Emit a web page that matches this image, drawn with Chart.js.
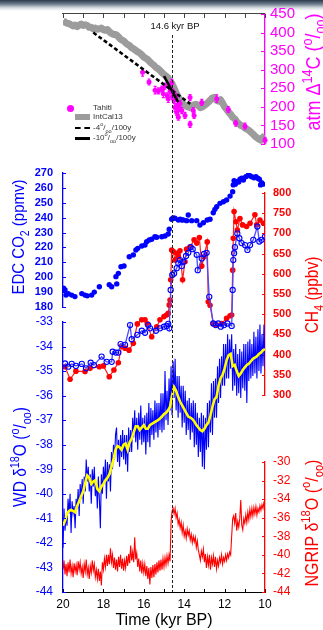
<!DOCTYPE html>
<html>
<head>
<meta charset="utf-8">
<script src="https://cdn.jsdelivr.net/npm/chart.js@4.4.0/dist/chart.umd.min.js"></script>
<style>
  html, body { margin: 0; padding: 0; background: #fff; }
  #wrap { position: relative; width: 323px; height: 630px; overflow: hidden;
          font-family: "Liberation Sans", Arial, sans-serif; background: #fff; }
  #wrap canvas { position: absolute; left: 0; top: 0; }
  .topbar { position: absolute; left: 0; top: 0; width: 323px; height: 11px;
            background: linear-gradient(#2a3a4c 0px, #6d7c8c 4px, #d9dee3 8px, rgba(255,255,255,0) 11px); }
  .ttl { position: absolute; white-space: nowrap; line-height: 1;
         transform: translate(-50%, -50%) rotate(-90deg) scaleY(1.15); }
  .ttl sup, .ttl sub, .lg sup, .lg sub { font-size: 0.7em; line-height: 0; }
  .lg { position: absolute; font-size: 8px; color: #333; white-space: nowrap; line-height: 1;
        transform: translateY(-50%); }
  .lgsym { position: absolute; }
  .note { position: absolute; font-size: 9.5px; color: #111; transform: translate(-50%, -50%); white-space: nowrap; }
</style>
</head>
<body>
<div id="wrap">
  <div class="topbar"></div>
  <canvas id="cD14C" width="323" height="630"></canvas>
  <canvas id="cCO2" width="323" height="630"></canvas>
  <canvas id="cCH4" width="323" height="630"></canvas>
  <canvas id="cWD" width="323" height="630"></canvas>
  <canvas id="cNGRIP" width="323" height="630"></canvas>

  <div class="note" style="left:175px;top:25px;">14.6 kyr BP</div>

  <div class="lgsym" style="left:67px;top:105px;width:7px;height:7px;border-radius:50%;background:#ff00ff;"></div>
  <div class="lg" style="left:93px;top:108px;">Tahiti</div>
  <div class="lgsym" style="left:75px;top:114px;width:15px;height:6px;background:#9c9c9c;"></div>
  <div class="lg" style="left:93px;top:117px;">IntCal13</div>
  <div class="lgsym" style="left:75px;top:127px;width:15px;height:0;border-top:2.5px dashed #000;"></div>
  <div class="lg" style="left:93px;top:128px;">-4<sup>o</sup>/<sub>oo</sub>/100y</div>
  <div class="lgsym" style="left:75px;top:137px;width:15px;height:2.5px;background:#000;"></div>
  <div class="lg" style="left:93px;top:138px;">-10<sup>o</sup>/<sub>oo</sub>/100y</div>

  <div class="ttl" style="left:313px;top:72px;color:#ff00ff;font-size:18px;">atm &Delta;<sup>14</sup>C (<sup>o</sup>/<sub>oo</sub>)</div>
  <div class="ttl" style="left:18px;top:237px;color:#0000ff;font-size:15px;">EDC CO<sub>2</sub> (ppmv)</div>
  <div class="ttl" style="left:312px;top:295px;color:#ff0000;font-size:15.5px;">CH<sub>4</sub> (ppbv)</div>
  <div class="ttl" style="left:20px;top:457px;color:#0000ff;font-size:15.5px;">WD &delta;<sup>18</sup>O (<sup>o</sup>/<sub>oo</sub>)</div>
  <div class="ttl" style="left:312px;top:523px;color:#ff0000;font-size:16px;">NGRIP &delta;<sup>18</sup>O (<sup>o</sup>/<sub>oo</sub>)</div>
</div>

<script>
// ---- tick values ----
const kyrTicks   = [10, 11, 12, 13, 14, 15, 16, 17, 18, 19, 20];
const d14cTicks  = [100, 150, 200, 250, 300, 350, 400, 450];
const co2Ticks   = [180, 190, 200, 210, 220, 230, 240, 250, 260, 270];
const ch4Ticks   = [300, 350, 400, 450, 500, 550, 600, 650, 700, 750, 800];
const wdTicks    = [-44, -43, -42, -41, -40, -39, -38, -37, -36, -35, -34, -33];
const ngripTicks = [-44, -42, -40, -38, -36, -34, -32, -30];
const onsetAge   = 14.6;

// ---- IntCal13 atmospheric D14C, 20.0 -> 10.0 kyr BP every 0.1 kyr ----
const intcalD14C = [432,428,425,424,421,418,420,416,420,423,419,421,419,414,414,410,412,409,410,412,
  408,406,408,402,398,395,395,391,385,380,378,372,368,365,359,356,352,348,345,340,
  334,331,327,321,316,312,306,303,298,292,287,283,278,270,262,250,238,227,216,210,
  205,202,200,198,203,206,207,203,198,200,204,208,213,219,224,226,218,215,219,210,
  200,193,186,180,172,168,160,155,150,148,143,140,137,132,127,121,117,113,110,118,122];

// ---- Tahiti corals ----
const tahitiAge = [16.06,15.74,15.44,15.28,15.11,15.03,14.95,14.84,14.79,14.70,14.62,14.58,14.55,14.50,14.46,14.45,
  14.41,14.37,14.33,14.29,14.25,14.21,14.12,13.96,13.71,13.71,13.55,13.51,13.13,12.39,11.82,11.45,10.99,10.00];
const tahitiD14C = [293,267,245,243,248,235,256,230,222,243,264,228,240,217,198,232,
  225,185,205,172,195,209,190,177,225,153,190,177,212,222,193,156,148,110];
const tahitiErr  = [10,8,10,8,8,10,8,8,10,8,10,8,8,8,10,8,
  8,8,10,8,8,8,8,8,8,8,8,8,8,10,8,8,8,8];

// ---- trend lines (-4 and -10 permil per century) ----
const trend4Age  = [18.5, 13.7];
const trend4Val  = [400, 208];
const trend10Age = [15.0, 14.3];
const trend10Val = [283, 213];

// ---- EDC CO2 ----
const co2Age = [19.97,19.9,19.85,19.74,19.57,19.41,19.07,18.91,18.8,18.58,18.45,18.2,17.71,17.59,17.38,17.34,17.26,17.13,16.98,
  16.72,16.52,16.39,16.3,16.1,15.94,15.86,15.73,15.61,15.45,15.36,15.11,14.95,14.79,14.74,14.62,14.55,14.46,14.29,14.2,
  14.12,14.05,13.88,13.8,13.63,13.38,13.22,13.05,12.86,12.72,12.56,12.48,12.39,12.23,12.06,11.9,11.73,11.6,11.57,11.53,
  11.47,11.4,11.3,11.24,11.15,11.07,10.95,10.82,10.75,10.66,10.55,10.45,10.36,10.28,10.22,10.17,10.1];
const co2 = [192.7,191.4,188,189,188,187,189,188,187.5,188,190,193.6,195,193.6,200.4,195.5,202.6,207,207.5,
  213.8,215,218.3,219.4,221,221.6,223.9,225,225.5,227.2,226.8,227.2,227.7,229,232.2,238.9,239.8,239.6,238.4,239,
  238.4,238.5,238,241.8,238,238,235,236.6,238.4,238.9,243.3,245.6,247.4,249.6,250.7,251.9,254.5,257.4,262,264.8,
  262.5,264.2,264,265.8,266.5,265.3,267.5,268.7,268.2,267.5,266.8,267.5,266.5,265.8,262,263.5,262.5];

// ---- CH4: EDC (red, filled) ----
const edcCh4Age = [19.9,19.65,19.36,18.91,18.66,18.2,18.0,17.71,17.48,17.26,17.1,16.93,16.73,16.52,16.32,16.1,15.94,15.83,
  15.61,15.36,15.2,15.0,14.87,14.79,14.74,14.7,14.67,14.62,14.54,14.46,14.37,14.29,14.21,14.08,13.96,13.88,13.71,13.51,
  13.38,13.25,13.13,13.02,12.86,12.81,12.72,12.56,12.39,12.14,11.9,11.73,11.65,11.6,11.57,11.53,11.44,11.37,11.24,11.11,
  10.91,10.74,10.5,10.41,10.25,10.08];
const edcCh4 = [370,339,359,358,366,370,372,345,362,380,421,416,411,428,476,486,486,476,
  444,469,486,494,498,502,523,535,585,659,655,634,651,642,657,585,630,661,666,684,
  676,690,619,642,679,531,522,477,473,477,490,496,498,609,688,754,729,708,737,721,
  717,725,746,721,733,725];

// ---- CH4: WD (blue, open) ----
const wdCh4Age = [19.9,19.74,19.57,19.36,19.07,18.86,18.63,18.47,18.09,17.84,17.59,17.54,17.38,17.26,17.15,16.93,16.68,16.6,
  16.32,16.1,15.94,15.78,15.69,15.4,15.2,15.0,14.87,14.79,14.74,14.67,14.59,14.5,14.37,14.29,14.21,14.12,14.04,13.91,
  13.8,13.68,13.58,13.38,13.33,13.13,13.02,12.89,12.76,12.56,12.44,12.31,12.19,12.03,11.86,11.65,11.6,11.57,11.53,11.49,
  11.37,11.27,11.16,10.99,10.87,10.74,10.58,10.38,10.28,10.17,10.0];
const wdCh4 = [378,370,377,372,377,366,380,374,395,382,382,407,405,405,426,424,473,438,
  449,459,454,473,465,459,465,469,471,476,465,560,597,601,614,626,634,619,630,644,
  652,666,661,647,609,638,649,652,543,477,473,477,469,473,477,471,560,634,651,666,
  700,688,676,671,659,671,684,717,680,684,692];

// ---- WD d18O, 20.00 -> 10.00 kyr BP every 0.05 kyr ----
const wdD18O = [
  -42.2,-40.6,-41.5,-40.9,-41.3,-40.2,-40.8,-40.0,-41.6,-40.3,-40.8,-40.5,-41.4,-40.2,-40.6,-39.8,-40.9,-39.6,-40.2,-39.4,
  -40.4,-39.3,-39.9,-38.6,-39.5,-38.9,-39.9,-39.2,-40.4,-39.0,-39.7,-38.9,-40.1,-39.5,-40.6,-39.3,-40.2,-41.4,-39.2,-40.0,
  -38.9,-39.6,-38.6,-40.2,-38.7,-39.5,-38.8,-39.9,-38.3,-39.0,-38.0,-38.6,-37.6,-37.3,-38.7,-37.8,-38.9,-37.6,-38.5,-37.4,
  -38.6,-37.6,-38.8,-37.6,-39.1,-37.3,-38.3,-37.4,-38.3,-36.9,-37.7,-36.6,-37.9,-36.9,-38.2,-36.7,-37.8,-36.4,-38.0,-36.9,
  -37.9,-36.8,-38.4,-36.7,-37.9,-36.3,-38.1,-36.5,-37.6,-36.6,-37.8,-36.2,-37.5,-36.3,-37.7,-36.3,-37.4,-35.9,-37.5,-35.9,
  -37.4,-35.0,-37.0,-35.8,-37.2,-35.3,-36.6,-34.8,-36.8,-34.6,-36.1,-34.5,-36.6,-35.2,-36.9,-35.2,-36.7,-35.6,-37.3,-35.6,
  -37.1,-35.8,-37.6,-36.2,-37.4,-36.1,-37.8,-36.3,-37.5,-36.2,-38.1,-36.3,-38.0,-36.7,-38.5,-36.9,-38.3,-36.7,-38.9,-36.8,
  -39.0,-36.9,-38.2,-36.3,-38.1,-36.2,-37.5,-35.5,-37.6,-35.4,-36.9,-35.3,-36.9,-34.8,-36.3,-34.5,-36.1,-34.4,-35.6,-33.9,
  -35.6,-33.9,-35.3,-33.5,-35.3,-33.7,-34.9,-33.5,-35.8,-34.1,-35.6,-33.9,-36.0,-34.3,-35.9,-34.1,-36.1,-34.2,-35.7,-33.9,
  -35.8,-33.9,-36.3,-33.8,-35.4,-33.7,-35.3,-33.9,-35.2,-33.4,-35.1,-33.6,-35.3,-33.3,-35.0,-33.1,-35.1,-33.5,-34.8,-33.1,
  -34.9];

// ---- WD d18O smoothed, 20.0 -> 10.0 kyr BP every 0.1 kyr ----
const wdSmooth = [-41.3,-41.1,-40.8,-40.7,-40.65,-40.7,-40.75,-40.5,-40.3,-40.1,-39.9,-39.55,-39.25,-39.35,-39.6,-39.5,-39.45,-39.8,-39.9,-39.7,
  -39.6,-39.45,-39.35,-39.2,-38.9,-38.6,-38.2,-38.05,-38.1,-38.2,-38.0,-37.95,-38.2,-37.9,-37.75,-37.5,-37.25,-37.25,-37.4,-37.3,
  -37.2,-37.35,-37.35,-37.2,-37.15,-37.1,-37.05,-37.0,-36.93,-36.85,-36.75,-36.7,-36.6,-36.45,-36.0,-35.65,-35.8,-36.05,-36.25,-36.4,
  -36.55,-36.7,-36.85,-36.9,-36.95,-37.05,-37.2,-37.3,-37.4,-37.45,-37.35,-37.2,-37.1,-36.8,-36.45,-36.15,-36.05,-35.6,-35.3,-35.15,
  -34.9,-34.55,-34.35,-34.3,-34.8,-34.75,-35.0,-35.2,-35.1,-34.95,-34.85,-34.75,-34.7,-34.6,-34.5,-34.45,-34.4,-34.3,-34.25,-34.15,
  -34.1];

// ---- NGRIP d18O, 20.00 -> 10.00 kyr BP every 0.05 kyr ----
const ngripD18O = [-41.6,-40.6,-42.1,-41.0,-42.3,-40.8,-41.9,-40.5,-42.0,-41.2,-42.4,-40.9,-41.8,-41.1,-42.2,-40.7,-41.6,-40.8,-42.0,-41.3,
  -42.5,-41.0,-41.8,-40.5,-42.1,-41.4,-42.6,-41.2,-41.9,-40.6,-41.7,-41.0,-42.4,-41.6,-42.6,-41.5,-42.8,-41.8,-43.3,-40.8,
  -41.6,-40.4,-41.3,-40.0,-41.2,-40.0,-41.0,-39.3,-40.8,-40.0,-41.4,-40.3,-41.6,-40.5,-41.8,-40.2,-41.3,-40.0,-41.5,-40.4,
  -41.7,-40.6,-41.4,-40.1,-41.2,-39.9,-40.9,-39.0,-40.6,-39.7,-40.8,-38.1,-40.5,-39.8,-41.3,-40.4,-41.8,-40.6,-42.0,-40.9,
  -41.9,-41.0,-42.3,-41.2,-42.6,-41.4,-43.2,-41.3,-42.5,-41.1,-42.4,-41.0,-42.1,-40.8,-41.9,-40.6,-41.7,-40.5,-41.6,-40.4,
  -41.3,-40.3,-41.1,-40.1,-40.9,-40.0,-40.7,-36.4,-35.3,-35.0,-35.6,-35.0,-36.0,-35.5,-36.7,-36.2,-37.1,-36.5,-37.6,-36.8,
  -38.0,-37.4,-38.2,-37.2,-37.9,-37.4,-38.4,-37.8,-38.7,-38.0,-38.6,-38.1,-39.2,-38.5,-39.5,-40.0,-40.6,-39.6,-40.2,-39.4,
  -40.8,-39.9,-41.4,-40.2,-41.1,-40.0,-41.6,-40.3,-41.0,-40.1,-41.3,-40.2,-41.5,-40.6,-41.2,-40.3,-40.8,-40.0,-41.0,-40.3,
  -40.7,-40.0,-40.6,-39.9,-40.3,-39.7,-40.0,-38.0,-36.1,-35.8,-36.6,-35.5,-37.4,-36.4,-37.0,-36.1,-34.1,-36.8,-37.3,-36.1,
  -36.6,-35.7,-36.5,-35.4,-36.2,-35.1,-35.9,-35.0,-35.8,-34.9,-35.6,-34.8,-35.7,-35.0,-35.4,-34.7,-35.2,-34.6,-35.0,-34.3,
  -34.1];

// ---- helpers ----
const pts = (ages, vals) => vals.map((v, i) => ({ x: ages[i], y: v }));
const evenAges = (vals, from, to) => vals.map((_, i) => from - i * (from - to) / (vals.length - 1));

Chart.defaults.font.family = "'Liberation Sans', Arial, sans-serif";
Chart.defaults.animation = false;

const W = 323, H = 630;
const PLOT_L = 63, PLOT_R = 265;

// inward tick marks and optional frame/marker line
const decor = {
  id: 'decor',
  afterDraw(chart, args, o) {
    const ctx = chart.ctx, a = chart.chartArea;
    ctx.save();
    (o.ticks || []).forEach(t => {
      const s = chart.scales[t.scale];
      ctx.strokeStyle = t.color; ctx.lineWidth = 1;
      ctx.beginPath();
      t.values.forEach(v => {
        const p = Math.round(s.getPixelForValue(v)) + 0.5;
        if (t.side === 'left')   { ctx.moveTo(a.left, p);  ctx.lineTo(a.left + t.len, p); }
        if (t.side === 'right')  { ctx.moveTo(a.right, p); ctx.lineTo(a.right - t.len, p); }
        if (t.side === 'bottom') { ctx.moveTo(p, a.bottom); ctx.lineTo(p, a.bottom - t.len); }
        if (t.side === 'top')    { ctx.moveTo(p, a.top);    ctx.lineTo(p, a.top + t.len); }
      });
      ctx.stroke();
    });
    if (o.topFrame) {
      ctx.strokeStyle = o.topFrame; ctx.lineWidth = 1;
      ctx.beginPath(); ctx.moveTo(a.left - 1, a.top - 0.5); ctx.lineTo(a.right, a.top - 0.5); ctx.stroke();
    }
    if (o.marker) {
      const x = Math.round(chart.scales.x.getPixelForValue(o.marker.value)) + 0.5;
      ctx.strokeStyle = '#222'; ctx.lineWidth = 1; ctx.setLineDash([3, 2]);
      ctx.beginPath(); ctx.moveTo(x, o.marker.from); ctx.lineTo(x, a.bottom); ctx.stroke();
    }
    ctx.restore();
  }
};

// vertical error bars for the coral points
const errorBars = {
  id: 'errorBars',
  afterDatasetDraw(chart, args, o) {
    if (!o.errors || args.index !== o.datasetIndex) return;
    const ctx = chart.ctx, y = chart.scales.y, x = chart.scales.x;
    ctx.save(); ctx.strokeStyle = o.color; ctx.lineWidth = 1.2;
    ctx.beginPath();
    chart.data.datasets[args.index].data.forEach((p, i) => {
      const px = x.getPixelForValue(p.x);
      ctx.moveTo(px, y.getPixelForValue(p.y - o.errors[i]));
      ctx.lineTo(px, y.getPixelForValue(p.y + o.errors[i]));
      ctx.moveTo(px - 1.5, y.getPixelForValue(p.y - o.errors[i]));
      ctx.lineTo(px + 1.5, y.getPixelForValue(p.y - o.errors[i]));
      ctx.moveTo(px - 1.5, y.getPixelForValue(p.y + o.errors[i]));
      ctx.lineTo(px + 1.5, y.getPixelForValue(p.y + o.errors[i]));
    });
    ctx.stroke(); ctx.restore();
  }
};

const xHidden = () => ({ type: 'linear', min: 10, max: 20, reverse: true, display: false });

function yAxis(side, min, max, ticks, color, font, pad) {
  return {
    type: 'linear', position: side, min, max,
    afterFit(s) { s.width = side === 'left' ? PLOT_L : W - PLOT_R; },
    afterBuildTicks(s) { s.ticks = ticks.map(v => ({ value: v })); },
    grid: { display: false, drawTicks: false },
    border: { display: true, color, width: 1.3 },
    ticks: { color, font, padding: pad, autoSkip: false }
  };
}

function panel(id, top, bottom, side, datasets, yScale, xScale, extra) {
  const padding = side === 'left'
    ? { left: 0, right: W - PLOT_R, top, bottom }
    : { left: PLOT_L, right: 0, top, bottom };
  return new Chart(document.getElementById(id), {
    type: 'scatter',
    data: { datasets },
    options: {
      responsive: false, devicePixelRatio: 1, animation: false,
      layout: { padding },
      scales: { x: xScale || xHidden(), y: yScale },
      plugins: Object.assign({ legend: { display: false }, tooltip: { enabled: false } }, extra || {})
    },
    plugins: [decor, errorBars]
  });
}

// ---- top panel: atmospheric D14C ----
panel('cD14C', 12, H - 144, 'right', [
  { data: pts(trend10Age, trend10Val), showLine: true, borderColor: '#000', borderWidth: 2.6, pointRadius: 0 },
  { data: pts(trend4Age, trend4Val), showLine: true, borderColor: '#000', borderWidth: 2.6, borderDash: [4, 2.5], pointRadius: 0 },
  { data: pts(tahitiAge, tahitiD14C), showLine: false, pointRadius: 2.5, pointBorderWidth: 0,
    pointBackgroundColor: '#ff00ff', clip: false },
  { data: pts(evenAges(intcalD14C, 20, 10), intcalD14C), showLine: true, borderColor: '#9c9c9c', borderWidth: 7,
    borderJoinStyle: 'round', pointRadius: 0 }
], yAxis('right', 100, 450, d14cTicks, '#ff00ff', { size: 15 }, 5), null, {
  decor: { ticks: [{ scale: 'y', side: 'right', len: 4, color: '#ff00ff', values: d14cTicks },
                   { scale: 'x', side: 'top', len: 4, color: '#444', values: kyrTicks }],
           topFrame: '#444' },
  errorBars: { datasetIndex: 2, errors: tahitiErr, color: '#ff00ff' }
});

// ---- EDC CO2 ----
panel('cCO2', 173, H - 307, 'left', [
  { data: pts(co2Age, co2), showLine: false, pointRadius: 2.7, pointBorderWidth: 0, pointBackgroundColor: '#0000ff' }
], yAxis('left', 180, 270, co2Ticks, '#0000ff', { size: 11, weight: 'bold' }, 10), null, {
  decor: { ticks: [{ scale: 'y', side: 'left', len: 3, color: '#0000ff', values: co2Ticks }] }
});

// ---- CH4 ----
panel('cCH4', 193, H - 395, 'right', [
  { data: pts(wdCh4Age, wdCh4), showLine: true, borderColor: '#4a4aff', borderWidth: 1.3,
    pointRadius: 2.6, pointBorderWidth: 1.1, pointBorderColor: '#0000ff', pointBackgroundColor: 'rgba(255,255,255,0)' },
  { data: pts(edcCh4Age, edcCh4), showLine: true, borderColor: '#ff2020', borderWidth: 1.2,
    pointRadius: 2.8, pointBorderWidth: 0, pointBackgroundColor: '#ff0000' }
], yAxis('right', 300, 800, ch4Ticks, '#ff0000', { size: 11, weight: 'bold' }, 8), null, {
  decor: { ticks: [{ scale: 'y', side: 'right', len: 3, color: '#ff0000', values: ch4Ticks }] }
});

// ---- WD d18O with the time axis ----
panel('cWD', 322, 0, 'left', [
  { data: pts(evenAges(wdSmooth, 20, 10), wdSmooth), showLine: true, borderColor: '#ffff00', borderWidth: 2.6, pointRadius: 0 },
  { data: pts(evenAges(wdD18O, 20, 10), wdD18O), showLine: true, borderColor: '#0000ff', borderWidth: 1.1, pointRadius: 0 }
], yAxis('left', -44, -33, wdTicks, '#0000ff', { size: 12 }, 10), {
  type: 'linear', min: 10, max: 20, reverse: true, position: 'bottom',
  afterFit(s) { s.height = H - 592; },
  afterBuildTicks(s) { s.ticks = kyrTicks.map(v => ({ value: v })); },
  grid: { display: false, drawTicks: false },
  border: { display: true, color: '#000', width: 1 },
  ticks: { color: '#000', font: { size: 12 }, padding: 5, autoSkip: false, maxRotation: 0,
           callback: v => (v % 2 === 0 ? String(v) : '') },
  title: { display: true, text: 'Time (kyr BP)', color: '#000', font: { size: 16 }, padding: 0 }
}, {
  decor: { ticks: [{ scale: 'y', side: 'left', len: 3, color: '#0000ff', values: wdTicks },
                   { scale: 'x', side: 'bottom', len: 3, color: '#000', values: kyrTicks }] }
});

// ---- NGRIP d18O, plus the 14.6 kyr marker across all panels ----
panel('cNGRIP', 462, H - 592, 'right', [
  { data: pts(evenAges(ngripD18O, 20, 10), ngripD18O), showLine: true, borderColor: '#ff0000', borderWidth: 1.1, pointRadius: 0 }
], yAxis('right', -44, -30, ngripTicks, '#ff0000', { size: 12 }, 8), null, {
  decor: { ticks: [{ scale: 'y', side: 'right', len: 3, color: '#ff0000', values: ngripTicks }],
           marker: { value: onsetAge, from: 35 } }
});
</script>
</body>
</html>
